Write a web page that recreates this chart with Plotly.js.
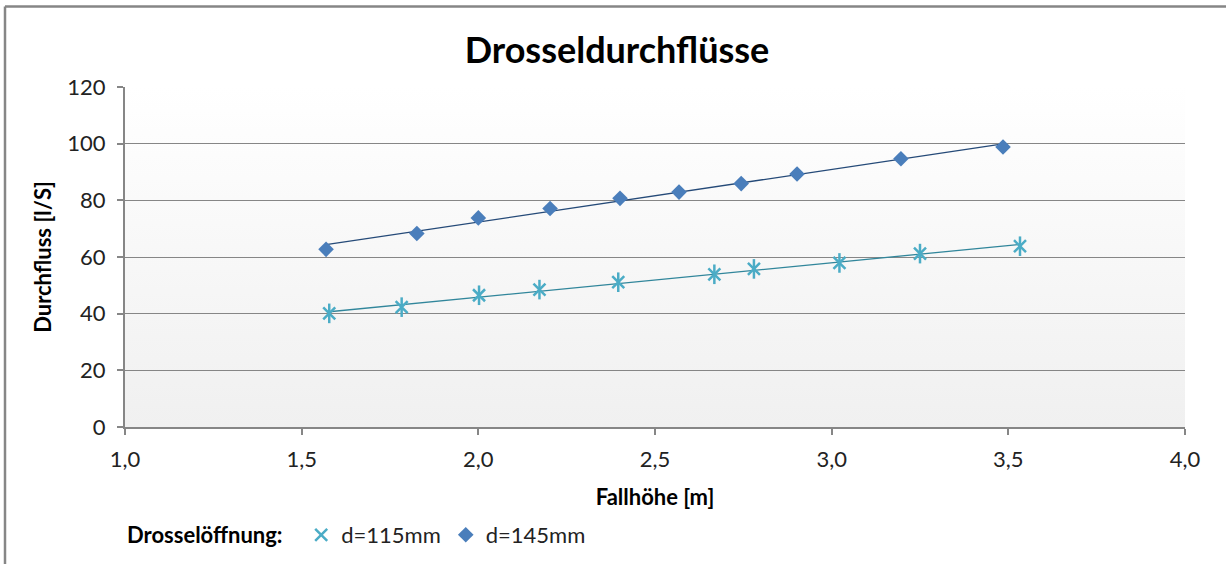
<!DOCTYPE html>
<html>
<head>
<meta charset="utf-8">
<script src="https://cdn.plot.ly/plotly-3.0.1.min.js"></script>
<style>
  html, body { margin: 0; padding: 0; background: #ffffff; }
  #chart { width: 1226px; height: 564px; }
</style>
</head>
<body>
<div id="chart"></div>
<script>
// ---- Data ----
const seriesNames = ['d=115mm', 'd=145mm'];
const legendTitle = 'Drosselöffnung:';
const chartTitle = 'Drosseldurchflüsse';
const xTitle = 'Fallhöhe [m]';
const yTitle = 'Durchfluss [l/S]';

const fallhoehe115 = [1.578, 1.783, 2.002, 2.173, 2.396, 2.668, 2.780, 3.022, 3.250, 3.533];
const durchfluss115 = [40.1, 42.3, 46.5, 48.5, 51.1, 53.9, 55.8, 57.9, 61.2, 63.8];

const fallhoehe145 = [1.569, 1.826, 2.000, 2.203, 2.401, 2.568, 2.744, 2.902, 3.196, 3.485];
const durchfluss145 = [62.7, 68.3, 73.8, 77.1, 80.7, 82.9, 85.9, 89.3, 94.7, 98.8];

// Linear trendline (least squares) computed from the data
function trend(xs, ys) {
  const n = xs.length;
  const mx = xs.reduce((a, b) => a + b, 0) / n;
  const my = ys.reduce((a, b) => a + b, 0) / n;
  let sxy = 0, sxx = 0;
  for (let i = 0; i < n; i++) { sxy += (xs[i] - mx) * (ys[i] - my); sxx += (xs[i] - mx) * (xs[i] - mx); }
  const b = sxy / sxx, a = my - b * mx;
  const x0 = Math.min(...xs), x1 = Math.max(...xs);
  return { x: [x0, x1], y: [a + b * x0, a + b * x1] };
}
const t115 = trend(fallhoehe115, durchfluss115);
const t145 = trend(fallhoehe145, durchfluss145);

const FONT = 'Lato, "Open Sans", sans-serif';
const GRAY = '#868686';
const C115 = '#4bacc6';
const C145 = '#4a7ebb';

const traces = [
  { x: t115.x, y: t115.y, mode: 'lines', line: { color: '#31869b', width: 1.3 }, showlegend: false, hoverinfo: 'skip' },
  { x: t145.x, y: t145.y, mode: 'lines', line: { color: '#254a78', width: 1.3 }, showlegend: false, hoverinfo: 'skip' },
  { x: fallhoehe115, y: durchfluss115, name: seriesNames[0], legendgroup: 's115', mode: 'markers', type: 'scatter',
    marker: { symbol: 'x-thin-open', size: 12, color: C115, line: { color: C115, width: 2.5 } } },
  { x: fallhoehe115, y: durchfluss115, name: seriesNames[0], legendgroup: 's115', showlegend: false, mode: 'markers', type: 'scatter',
    marker: { symbol: 'line-ns-open', size: 14, color: C115, line: { color: C115, width: 2.5 } } },
  { x: fallhoehe145, y: durchfluss145, name: seriesNames[1], mode: 'markers', type: 'scatter',
    marker: { symbol: 'diamond', size: 12, color: C145, line: { width: 0 } } }
];

const gradSvg = "<svg xmlns='http://www.w3.org/2000/svg' width='10' height='100' preserveAspectRatio='none'>" +
  "<defs><linearGradient id='g' x1='0' y1='0' x2='0' y2='1'><stop offset='0' stop-color='#ffffff'/><stop offset='1' stop-color='#f0f0f0'/></linearGradient></defs>" +
  "<rect width='10' height='100' fill='url(#g)'/></svg>";
const gradUri = 'data:image/svg+xml;charset=utf-8,' + encodeURIComponent(gradSvg);

const L = 125, R = 41, T = 86.6, B = 137;
const W = 1226, H = 564;
const pw = W - L - R, ph = H - T - B;
const px = v => (v - L) / pw;           // pixel x -> paper
const py = v => (H - B - v) / ph;       // pixel y -> paper

const layout = {
  width: W, height: H,
  margin: { l: L, r: R, t: T, b: B, pad: 0, autoexpand: false },
  paper_bgcolor: '#ffffff',
  plot_bgcolor: 'rgba(0,0,0,0)',
  separators: ', ',
  font: { family: FONT, size: 22, color: '#222222' },
  title: { text: '<b>' + chartTitle + '</b>', font: { family: FONT, size: 36, color: '#000000' },
           xref: 'container', x: 617 / W, xanchor: 'center', y: 1 - 50 / H, yanchor: 'middle' },
  xaxis: {
    range: [1, 4], dtick: 0.5, tick0: 1, tickformat: '.1f',
    showgrid: false, zeroline: false, automargin: false,
    showline: true, linecolor: GRAY, linewidth: 2,
    ticks: 'outside', ticklen: 6, tickwidth: 2, tickcolor: GRAY, ticklabelstandoff: 6,
    tickfont: { family: FONT, size: 22, color: '#222222' },
    title: { text: '<b>' + xTitle + '</b>', font: { family: FONT, size: 22, color: '#000000' }, standoff: 18 }
  },
  yaxis: {
    range: [0, 120], dtick: 20, tick0: 0,
    showgrid: true, gridcolor: GRAY, gridwidth: 1, zeroline: false, automargin: false,
    showline: true, linecolor: GRAY, linewidth: 2,
    ticks: 'outside', ticklen: 6, tickwidth: 2, tickcolor: GRAY, ticklabelstandoff: 7,
    tickfont: { family: FONT, size: 22, color: '#222222' },
    title: { text: '<b>' + yTitle + '</b>', font: { family: FONT, size: 22, color: '#000000' }, standoff: 10 }
  },
  legend: {
    orientation: 'h', x: 0, xanchor: 'left', yref: 'container', y: 1 - 514 / H, yanchor: 'top',
    bgcolor: 'rgba(0,0,0,0)',
    font: { family: FONT, size: 22, color: '#222222' },
    title: { text: '<b>' + legendTitle + '\u00a0\u00a0</b>', side: 'left', font: { family: FONT, size: 22, color: '#000000' } },
    itemwidth: 30, tracegroupgap: 0
  },
  images: [{ source: gradUri, xref: 'paper', yref: 'paper', x: 0, y: 1, sizex: 1, sizey: 1,
             sizing: 'stretch', xanchor: 'left', yanchor: 'top', layer: 'below' }],
  shapes: [
    { type: 'line', xref: 'paper', yref: 'paper', x0: px(5), x1: px(5), y0: py(6), y1: py(570), line: { color: GRAY, width: 2.5 } },
    { type: 'line', xref: 'paper', yref: 'paper', x0: px(5), x1: px(1230), y0: py(6), y1: py(6), line: { color: GRAY, width: 2.5 } }
  ],
  showlegend: true,
  hovermode: false
};

Plotly.newPlot('chart', traces, layout, { displayModeBar: false, staticPlot: true });
</script>
</body>
</html>
